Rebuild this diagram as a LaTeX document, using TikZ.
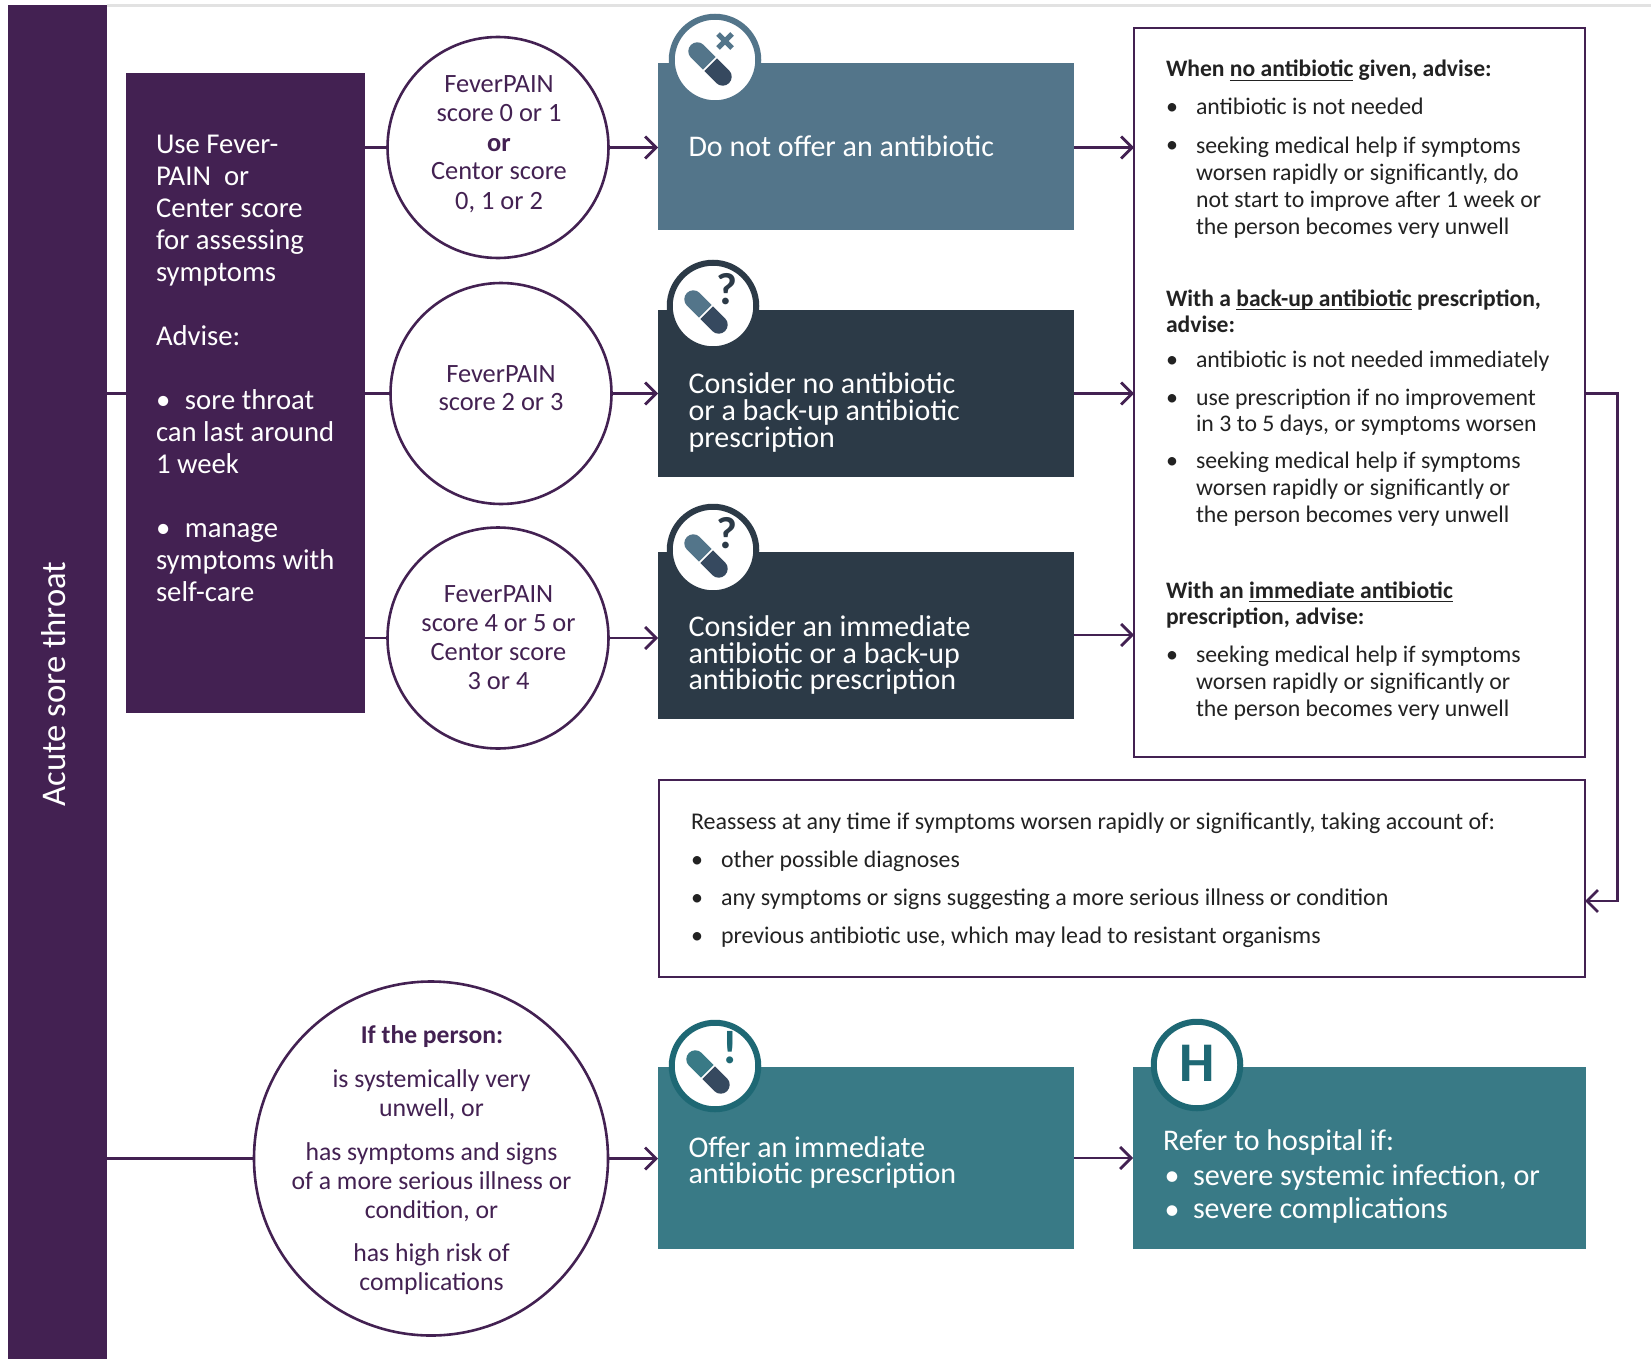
\documentclass[tikz,border=0pt]{standalone}
\usepackage{fontspec}
\setmainfont{Carlito}
\usetikzlibrary{arrows.meta}
\normallineskiplimit=-100pt
\lineskiplimit=-100pt
\definecolor{purp}{HTML}{432152}
\definecolor{slate}{HTML}{53758A}
\definecolor{navy}{HTML}{2C3A47}
\definecolor{teal1}{HTML}{397A86}
\definecolor{teal2}{HTML}{1E6874}
\definecolor{pilld}{HTML}{36495F}
\definecolor{ink}{HTML}{222222}
\definecolor{rule1}{HTML}{E2E2E2}
\tikzset{
  x=1pt,y=-1pt,
  rect/.style={rectangle,inner sep=0pt,outer sep=0pt,line width=0pt},
  frame/.style={rectangle,inner sep=0pt,outer sep=0pt,draw=purp,line width=2.6pt,fill=white},
  disc/.style={circle,inner sep=0pt,outer sep=0pt,draw=purp,line width=2.6pt,fill=white},
  conn/.style={draw=purp,line width=2.7pt},
  arr/.style={conn,-{Straight Barb[length=11pt,width=22pt,line width=2.7pt]}},
  txt/.style={inner sep=0pt,outer sep=0pt,anchor=north west,align=left},
  ctr/.style={inner sep=0pt,outer sep=0pt,anchor=north,align=center},
}
% \Blk{name}{style}{x}{first baseline y}{size}{baselineskip}{colour}{text}
\newcommand{\Blk}[8]{%
  \pgfmathsetmacro{\topy}{#4-0.7*#6}%
  \node[#2,text=#7,font=\fontsize{#5pt}{#6pt}\selectfont] (#1) at (#3,\topy) {\strut #8\strut};}
\newcommand{\Bul}[5]{%
  \node[inner sep=0pt,outer sep=0pt,anchor=base,text=#4,font=\fontsize{#5pt}{#5pt}\selectfont] (#1) at (#2,#3) {•};}
\newcommand{\Pill}[3]{%
  \begin{scope}[shift={(#1,#2)},x=1pt,y=1pt,rotate=-45]
    \fill[#3] (-0.9,9) -- (-18,9) arc (90:270:9) -- (-0.9,-9) -- cycle;
    \fill[pilld] (0.9,9) -- (18,9) arc (90:-90:9) -- (0.9,-9) -- cycle;
  \end{scope}}
\newcommand{\Ring}[4]{%
  \node[circle,inner sep=0pt,outer sep=0pt,minimum size=86.5pt,draw=#4,line width=6pt,fill=white] (#1) at (#2,#3) {};}
\newcommand{\Und}[1]{\sbox0{#1}\rlap{\rule[-3.9pt]{\wd0}{1pt}}#1}
\begin{document}
\begin{tikzpicture}
\useasboundingbox (0,0) rectangle (1651,1359);
\fill[white] (0,0) rectangle (1651,1359);
\coordinate (rs) at (107,6); \coordinate (re) at (1651,6);
\draw[rule1,line width=3pt] (rs) -- (re);

% main shapes
\node[rect,fill=purp,minimum width=99pt,minimum height=1354pt] (bar) at (57.5,682) {};
\node[rect,fill=purp,minimum width=239pt,minimum height=640pt] (lb) at (245.5,393) {};
\node[disc,minimum size=221pt] (c1) at (498,147.5) {};
\node[disc,minimum size=221pt] (c2) at (501,393.5) {};
\node[disc,minimum size=221pt] (c3) at (498,638) {};
\node[disc,minimum size=354pt] (c4) at (431,1158.5) {};
\node[rect,fill=slate,minimum width=416pt,minimum height=167pt] (b1) at (866,146.5) {};
\node[rect,fill=navy,minimum width=416pt,minimum height=167pt] (b2) at (866,393.5) {};
\node[rect,fill=navy,minimum width=416pt,minimum height=167pt] (b3) at (866,635) {};
\node[rect,fill=teal1,minimum width=416pt,minimum height=182pt] (b4) at (866,1158) {};
\node[rect,fill=teal1,minimum width=453pt,minimum height=182pt] (b5) at (1359.5,1158) {};
\node[frame,minimum width=451pt,minimum height=729pt] (big) at (1359.5,392.5) {};
\node[frame,minimum width=926pt,minimum height=197pt] (ra) at (1122,878.5) {};
\coordinate (fb) at (1617.5,901);

% connectors
\draw[conn] (bar.east |- c2.west) -- (lb.west |- c2.west);
\draw[conn] (bar.east |- c4.west) -- (c4.west);
\draw[conn] (lb.east |- c1.west) -- (c1.west);
\draw[conn] (lb.east |- c2.west) -- (c2.west);
\draw[conn] (lb.east |- c3.west) -- (c3.west);
\draw[arr] (c1.east) -- (b1.west |- c1.east);
\draw[arr] (c2.east) -- (b2.west |- c2.east);
\draw[arr] (c3.east) -- (b3.west |- c3.east);
\draw[arr] (c4.east) -- (b4.west |- c4.east);
\draw[arr] (b1.east |- c1.east) -- (big.west |- c1.east);
\draw[arr] (b2.east) -- (big.west |- b2.east);
\draw[arr] (b3.east) -- (big.west |- b3.east);
\draw[arr] (b4.east) -- (b5.west |- b4.east);
\draw[arr] (big.east |- b2.east) -| (fb) -- (ra.east |- fb);

% icons
\Ring{i1}{715}{60}{slate}
\Pill{710}{64}{slate}
\draw[slate,line width=5pt] (718,34) -- (732,48);
\draw[slate,line width=5pt] (732,34) -- (718,48);
\Ring{i2}{713}{306}{navy}
\Pill{706}{312}{slate}
\node[inner sep=0pt,text=navy,font=\fontsize{45pt}{45pt}\selectfont\bfseries] (q2) at (727,289) {?};
\Ring{i3}{713}{550}{navy}
\Pill{706}{556}{slate}
\node[inner sep=0pt,text=navy,font=\fontsize{45pt}{45pt}\selectfont\bfseries] (q3) at (727,533) {?};
\Ring{i4}{715}{1066}{teal2}
\Pill{708}{1072}{teal1}
\node[inner sep=0pt,text=teal2,font=\fontsize{47pt}{47pt}\selectfont\bfseries] (ex) at (730,1048) {!};
\Ring{i5}{1197}{1065}{teal2}
\node[inner sep=0pt,text=teal2,font=\fontsize{56pt}{56pt}\selectfont\bfseries] (hh) at (1197,1063) {H};

% bar title
\node[inner sep=0pt,rotate=90,text=white,font=\fontsize{34.6pt}{34.6pt}\selectfont] (title) at (54,684) {Acute sore throat};

% left box text
\newcommand{\lbul}{\makebox[29pt][l]{•}}
\Blk{lt}{txt}{156}{153}{28.7}{32}{white}{Use Fever-\\PAIN\ \ or\\Center score\\for assessing\\symptoms\\[32pt]Advise:\\[32pt]\lbul sore throat\\can last around\\1 week\\[32pt]\lbul manage\\symptoms with\\self-care}

% circles
\Blk{t1}{ctr}{499}{93}{26.4}{29}{purp}{FeverPAIN\\score 0 or 1\\\textbf{or}\\Centor score\\0, 1 or 2}
\Blk{t2}{ctr}{501}{382}{26.4}{28}{purp}{FeverPAIN\\score 2 or 3}
\Blk{t3}{ctr}{498.5}{602}{26.4}{29}{purp}{FeverPAIN\\score 4 or 5 or\\Centor score\\3 or 4}
\Blk{t4a}{ctr}{432}{1043}{25.6}{29}{purp}{\textbf{If the person:}}
\Blk{t4b}{ctr}{431.5}{1087}{25.8}{29}{purp}{is systemically very\\unwell, or}
\Blk{t4c}{ctr}{431.5}{1160}{25.7}{29}{purp}{has symptoms and signs\\of a more serious illness or\\condition, or}
\Blk{t4d}{ctr}{431.5}{1261}{25.7}{29}{purp}{has high risk of\\complications}

% box text
\Blk{bt1}{txt}{688.5}{155}{30}{27}{white}{Do not offer an antibiotic}
\Blk{bt2}{txt}{688.5}{392}{30}{27}{white}{Consider no antibiotic\\or a back-up antibiotic\\prescription}
\Blk{bt3}{txt}{688.5}{634.5}{30}{26.6}{white}{Consider an immediate\\antibiotic or a back-up\\antibiotic prescription}
\Blk{bt4}{txt}{688.5}{1155}{30}{26}{white}{Offer an immediate\\antibiotic prescription}
\Blk{bt5a}{txt}{1163}{1150}{30}{35}{white}{Refer to hospital if:}
\Bul{bb1}{1172}{1185}{white}{30}
\Blk{bt5b}{txt}{1193}{1185}{30.2}{35}{white}{severe systemic infection, or}
\Bul{bb2}{1172}{1219}{white}{30}
\Blk{bt5c}{txt}{1193}{1218.5}{30}{35}{white}{severe complications}

% advice box
\Blk{a1}{txt}{1166}{77}{23.6}{27}{ink}{\textbf{When \Und{no antibiotic} given, advise:}}
\Bul{ab1}{1172}{115}{ink}{24}
\Blk{a2}{txt}{1196}{115}{23.8}{27}{ink}{antibiotic is not needed}
\Bul{ab2}{1172}{153}{ink}{24}
\Blk{a3}{txt}{1196}{153}{23.8}{27}{ink}{seeking medical help if symptoms\\worsen rapidly or significantly, do\\not start to improve after 1 week or\\the person becomes very unwell}
\Blk{a4}{txt}{1166}{306}{23.6}{26}{ink}{\textbf{With a \Und{back-up antibiotic} prescription,}\\\textbf{advise:}}
\Bul{ab3}{1172}{367}{ink}{24}
\Blk{a5}{txt}{1196}{367}{23.8}{27}{ink}{antibiotic is not needed immediately}
\Bul{ab4}{1172}{405}{ink}{24}
\Blk{a6}{txt}{1196}{405}{23.8}{26}{ink}{use prescription if no improvement\\in 3 to 5 days, or symptoms worsen}
\Bul{ab5}{1172}{468.5}{ink}{24}
\Blk{a7}{txt}{1196}{468.5}{23.8}{27}{ink}{seeking medical help if symptoms\\worsen rapidly or significantly or\\the person becomes very unwell}
\Blk{a8}{txt}{1166}{598}{23.6}{26}{ink}{\textbf{With an \Und{immediate antibiotic}}\\\textbf{prescription, advise:}}
\Bul{ab6}{1172}{662.5}{ink}{24}
\Blk{a9}{txt}{1196}{662.5}{23.8}{27}{ink}{seeking medical help if symptoms\\worsen rapidly or significantly or\\the person becomes very unwell}

% reassess box
\Blk{r0}{txt}{691}{829.5}{24}{27}{ink}{Reassess at any time if symptoms worsen rapidly or significantly, taking account of:}
\Bul{rb1}{697}{867.5}{ink}{24}
\Blk{r1}{txt}{721}{867.5}{23.8}{27}{ink}{other possible diagnoses}
\Bul{rb2}{697}{905.5}{ink}{24}
\Blk{r2}{txt}{721}{905.5}{24}{27}{ink}{any symptoms or signs suggesting a more serious illness or condition}
\Bul{rb3}{697}{943.5}{ink}{24}
\Blk{r3}{txt}{721}{943.5}{23.9}{27}{ink}{previous antibiotic use, which may lead to resistant organisms}
\end{tikzpicture}
\end{document}
